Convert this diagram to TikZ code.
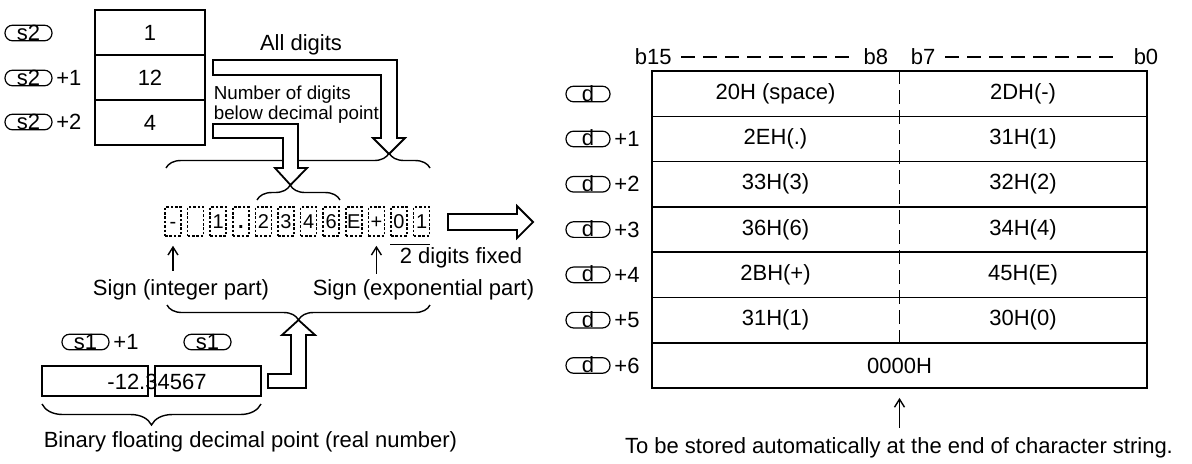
\documentclass[tikz,border=0pt]{standalone}
\usepackage{fontspec}
\setmainfont{Liberation Sans}
\usetikzlibrary{arrows.meta,positioning,decorations.pathreplacing}

\begin{document}
\begin{tikzpicture}[
    x=0.5pt, y=-0.5pt,
    font=\fontsize{11}{13}\selectfont,
    line width=0.8pt,
    cell/.style={draw, minimum width=55pt, minimum height=22.5pt, inner sep=0pt},
    opnd/.style={draw, rounded corners=3.8pt, minimum width=23.5pt, minimum height=7.8pt,
                 inner sep=0pt, text height=7.4pt, text depth=0.4pt,
                 font=\fontsize{11}{11}\selectfont, line width=0.6pt},
    idx/.style={right=0pt of #1, inner sep=1.5pt},
    digit/.style={draw, dash pattern=on 1.3pt off 0.9pt, line width=0.75pt,
                  minimum width=8pt, minimum height=14.5pt, inner sep=0pt,
                  text height=7pt, text depth=0pt, font=\fontsize{10}{10}\selectfont},
    wrow/.style={draw, minimum width=247.5pt, minimum height=22.65pt, inner sep=0pt},
    hollow/.style={draw, fill=white, line width=0.9pt, line join=miter},
    brc/.style={decorate, decoration={brace, amplitude=7.5pt}, line width=0.7pt},
    tip/.style={-{Straight Barb[length=4pt, width=5pt]}, line width=0.7pt},
    hdash/.style={dash pattern=on 7pt off 4pt, line width=0.7pt},
    txt/.style={anchor=west, inner sep=0pt},
]
\useasboundingbox (0,0) rectangle (1192,463);

% source s2
\node[cell] (s2v0) at (150,32.5) {1};
\node[cell] (s2v1) at (150,77.5) {12};
\node[cell] (s2v2) at (150,122.5) {4};
\node[opnd] (s2a) at (28.5,33) {s2};
\node[opnd] (s2b) at (28.5,78) {s2};
\node[idx=s2b] (s2bn) {+1};
\node[opnd] (s2c) at (28.5,122) {s2};
\node[idx=s2c] (s2cn) {+2};

\node (all) at (301,45) {All digits};
\node[txt, align=left, font=\fontsize{9.4}{10}\selectfont] (ndig) at (213,105)
    {Number of digits\\below decimal point};

% character image
\foreach \ch [count=\i from 0] in {-,{},1,{\bfseries.},2,3,4,6,E,+,0,1}
    \node[digit] (c\i) at (173+22.6*\i,221.5) {\ch};

\draw[brc, decoration={aspect=0.845}] (166,168) -- (430,168);
\draw[brc, decoration={aspect=0.4}] (257,200) -- (340,200);

\draw[hollow] (213,60) -- (397,60) -- (397,138) -- (405,138) -- (389,154) -- (373,138)
    -- (381,138) -- (381,75) -- (213,75) -- cycle;
\draw[hollow] (213,124) -- (298,124) -- (298,168) -- (307,168) -- (290.5,185) -- (275,168)
    -- (283,168) -- (283,138) -- (213,138) -- cycle;

\draw[line width=0.7pt] ([yshift=-4pt]c10.south west) -- ([yshift=-4pt]c11.south east);
\node[txt] (fixed) at (399,258) {2 digits fixed};
\draw[tip] ([yshift=-17pt]c0.south) -- ([yshift=-4.5pt]c0.south);
\draw[tip] ([yshift=-18.5pt]c9.south) -- ([yshift=-4.5pt]c9.south);
\node (sgnint) at (181,290) {Sign (integer part)};
\node[txt] (sgnexp) at (312,290) {Sign (exponential part)};
\draw[brc, decoration={aspect=0.5}] (430,305) -- (167,305);

% source s1
\node[opnd] (s1a) at (85.5,342) {s1};
\node[idx=s1a] (s1an) {+1};
\node[opnd] (s1b) at (207.5,342) {s1};
\node[draw, minimum width=53pt, minimum height=15pt, inner sep=0pt] (s1hi) at (95,381) {};
\node[draw, minimum width=53pt, minimum height=15pt, inner sep=0pt] (s1lo) at (208,381) {};
\node (s1val) at (157,382) {-12.34567};
\draw[brc, decoration={aspect=0.5, amplitude=10.5pt}] (261,404) -- (42,404);
\node[txt] (binlbl) at (43,442) {Binary floating decimal point (real number)};

\draw[hollow] (268,374) -- (291,374) -- (291,335) -- (282,335) -- (298.5,320) -- (315,335)
    -- (306,335) -- (306,388) -- (268,388) -- cycle;
\draw[hollow] (448,214) -- (517,214) -- (517,206) -- (533,222) -- (517,238) -- (517,230)
    -- (448,230) -- cycle;

% destination d
\node[txt] (b15) at (634,57) {b15};
\node[anchor=east, inner sep=0pt] (b8) at (889,57) {b8};
\node[txt] (b7) at (910,57) {b7};
\node[anchor=east, inner sep=0pt] (b0) at (1159,57) {b0};
\draw[hdash] ([xshift=4.5pt]b15.east) -- ([xshift=-6pt]b8.west);
\draw[hdash] ([xshift=4.5pt]b7.east) -- ([xshift=-8pt]b0.west);

\foreach \lt/\rt [count=\k from 0] in {20H (space)/2DH(-), 2EH(.)/31H(1), 33H(3)/32H(2),
        36H(6)/34H(4), 2BH(+)/45H(E), 31H(1)/30H(0)} {
    \node[wrow] (d\k) at (899.5,{71+45.3*(\k+0.5)}) {};
    \node (hi\k) at (775.5,{71+45.3*(\k+0.5)}) {\lt};
    \node (lo\k) at (1023,{71+45.3*(\k+0.5)}) {\rt};
}
\node[wrow] (d6) at (899.5,365.45) {0000H};
\draw[dash pattern=on 7pt off 3pt] (d0.north) -- (d5.south);

\node[opnd, minimum width=22pt] (da) at (588,94) {d};
\foreach \k in {1,...,6} {
    \node[opnd, minimum width=22pt] (da\k) at (588,{93.65+45.3*\k}) {d};
    \node[idx=da\k] (dn\k) {+\k};
}

\draw[tip] ([yshift=-19.5pt]d6.south) -- ([yshift=-4.5pt]d6.south);
\node (store) at (899,448) {To be stored automatically at the end of character string.};
\end{tikzpicture}
\end{document}
